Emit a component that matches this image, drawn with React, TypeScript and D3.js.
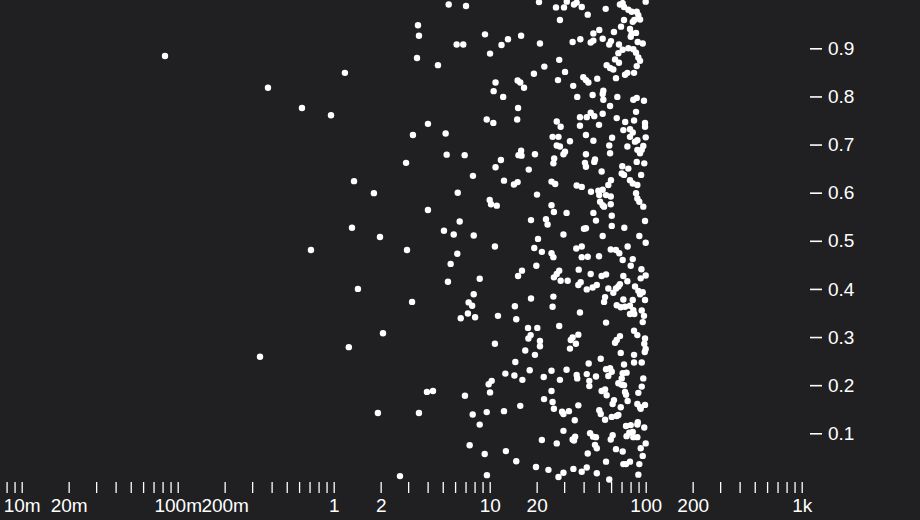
import React, { useEffect, useRef } from 'react';
import * as d3 from 'd3';

// [x, y] — x on a log axis, y in [0, 1]
const pointsLow: [number, number][] = [
  [0.0829, 0.884], [0.379, 0.818], [0.626, 0.776], [0.961, 0.761], [1.18, 0.849], [3.47, 0.948], [3.52, 0.926],
  [3.42, 0.88], [4.66, 0.865], [2.91, 0.662], [3.22, 0.72], [4.02, 0.743], [1.35, 0.624], [1.81, 0.599],
  [4.02, 0.564], [1.31, 0.527], [1.98, 0.508], [0.715, 0.481], [2.95, 0.481], [1.43, 0.4], [3.18, 0.373],
  [2.07, 0.308], [1.25, 0.279], [0.337, 0.259], [3.96, 0.186], [4.33, 0.188], [1.92, 0.142], [3.52, 0.142],
  [2.66, 0.011],
];

const pointsMid: [number, number][] = [
  [5.46, 0.991], [7.05, 0.988], [20.7, 0.996], [9.33, 0.929], [13.1, 0.919], [15.9, 0.926], [6.14, 0.908],
  [6.77, 0.908], [11.9, 0.907], [21.0, 0.91], [10.05, 0.889], [22.4, 0.862], [19.2, 0.847], [10.9, 0.829],
  [15.1, 0.833], [15.7, 0.829], [16.6, 0.818], [10.6, 0.811], [12.2, 0.799], [15.2, 0.776], [9.57, 0.752],
  [10.55, 0.745], [15.0, 0.752], [5.22, 0.723], [5.3, 0.679], [6.91, 0.678], [11.8, 0.668], [15.9, 0.687],
  [15.3, 0.678], [16.0, 0.677], [19.5, 0.68],
  [10.9, 0.653], [17.8, 0.648], [7.81, 0.635], [12.35, 0.625], [14.3, 0.617], [15.1, 0.622], [6.24, 0.6],
  [20.1, 0.596], [10.0, 0.585], [10.2, 0.576], [11.1, 0.573], [6.42, 0.54], [5.09, 0.521], [5.88, 0.513],
  [7.9, 0.511], [18.4, 0.543], [22.95, 0.545], [23.5, 0.534], [20.4, 0.504], [10.8, 0.488], [19.3, 0.485],
  [21.6, 0.477], [6.2, 0.473], [5.62, 0.452], [19.9, 0.448], [16.1, 0.438], [15.2, 0.427], [8.63, 0.421],
  [5.4, 0.415], [7.9, 0.389], [7.33, 0.372], [7.72, 0.365], [18.4, 0.38], [14.5, 0.364], [7.25, 0.349],
  [6.52, 0.339], [8.06, 0.341], [11.3, 0.344], [14.8, 0.337],
  [17.6, 0.319], [20.2, 0.319], [18.3, 0.304], [17.7, 0.297], [21.0, 0.292], [21.0, 0.281], [10.8, 0.286],
  [16.9, 0.272], [19.5, 0.263], [14.6, 0.248], [12.6, 0.224], [14.4, 0.22], [16.2, 0.211], [18.05, 0.231],
  [22.2, 0.217], [10.3, 0.209], [9.85, 0.202], [10.05, 0.185], [6.94, 0.178], [22.3, 0.171], [15.7, 0.157],
  [7.78, 0.139], [9.57, 0.144], [12.35, 0.146], [8.63, 0.118], [21.6, 0.086], [7.44, 0.075], [9.29, 0.057],
  [12.7, 0.063], [14.8, 0.042], [19.8, 0.03], [23.8, 0.024], [9.6, 0.013],
];

const pointsHighTop: [number, number][] = [
  [26.6, 0.985], [29.95, 0.985], [31.2, 0.997], [34.7, 0.991], [36.1, 0.995], [38.9, 0.986], [55.4, 0.982],
  [68.4, 0.991], [71.2, 0.994], [72.6, 0.986], [77.4, 0.98], [81.3, 0.976], [87.6, 0.976], [89.7, 0.969],
  [100, 0.997], [28.2, 0.959], [42.5, 0.97], [84.5, 0.959], [92.0, 0.96], [82.6, 0.955], [72.6, 0.959],
  [69.5, 0.945], [79.3, 0.94], [50.4, 0.938], [46.2, 0.931], [62.6, 0.934], [81.3, 0.931], [86.7, 0.932],
  [80.2, 0.924], [38.1, 0.919], [34.0, 0.913], [46.2, 0.916], [44.4, 0.912], [53.0, 0.92], [59.9, 0.915],
  [58.4, 0.908], [67.4, 0.908], [88.9, 0.913], [95.7, 0.91], [66.8, 0.89], [71.2, 0.897], [77.4, 0.9],
  [83.3, 0.898], [86.7, 0.891], [89.7, 0.881], [92.0, 0.874], [63.6, 0.877], [67.4, 0.87], [27.9, 0.876],
  [56.2, 0.865], [59.1, 0.859], [62.0, 0.856], [87.6, 0.863], [30.4, 0.851], [73.7, 0.845], [76.3, 0.849],
  [84.2, 0.849], [64.5, 0.838], [27.4, 0.834], [39.8, 0.84], [41.4, 0.834], [42.9, 0.829], [48.9, 0.837],
  [34.3, 0.822], [53.5, 0.812], [53.0, 0.805], [45.7, 0.803], [36.4, 0.799], [53.5, 0.793], [65.8, 0.799],
  [83.3, 0.793], [87.6, 0.797], [97.5, 0.791], [59.1, 0.78], [86.7, 0.768], [44.4, 0.766], [46.8, 0.759],
  [41.9, 0.757], [37.9, 0.757], [53.0, 0.764], [65.2, 0.755], [73.9, 0.747], [84.2, 0.75], [26.9, 0.748],
  [28.5, 0.737], [37.9, 0.739], [50.2, 0.741], [99.0, 0.745], [99.0, 0.737], [71.9, 0.73], [79.3, 0.732],
  [82.6, 0.725], [25.3, 0.716], [27.6, 0.716], [41.4, 0.72], [60.9, 0.714], [79.3, 0.716], [88.4, 0.709],
  [85.4, 0.706], [100, 0.715], [32.7, 0.707], [46.2, 0.708], [26.9, 0.698], [28.2, 0.696], [58.4, 0.698],
  [76.3, 0.696], [96.5, 0.697], [94.3, 0.689], [92.0, 0.682], [30.4, 0.685], [29.7, 0.68], [41.4, 0.68],
  [59.1, 0.682], [88.4, 0.689], [25.9, 0.671], [47.3, 0.669],
];

const pointsHighMiddle: [number, number][] = [
  [25.6, 0.661], [40.8, 0.662], [41.4, 0.654], [46.8, 0.664], [70.8, 0.655], [77.4, 0.65], [70.2, 0.64],
  [72.6, 0.637], [87.6, 0.664], [97.9, 0.661], [52.2, 0.644], [93.5, 0.637], [59.9, 0.626], [57.6, 0.616],
  [79.3, 0.626], [82.6, 0.619], [88.4, 0.616], [24.9, 0.623], [26.3, 0.618], [36.1, 0.615], [38.9, 0.612],
  [44.6, 0.602], [49.7, 0.604], [53.0, 0.606], [50.4, 0.595], [55.7, 0.595], [59.7, 0.592], [51.0, 0.581],
  [53.0, 0.574], [54.1, 0.571], [59.7, 0.576], [86.7, 0.599], [88.4, 0.588], [91.0, 0.581], [96.5, 0.571],
  [24.9, 0.574], [25.8, 0.56], [31.1, 0.558], [46.2, 0.558], [60.6, 0.552], [48.0, 0.542], [99.0, 0.541],
  [60.6, 0.531], [40.2, 0.525], [41.4, 0.526], [72.9, 0.527], [29.7, 0.513], [53.0, 0.51], [91.0, 0.51],
  [100, 0.496], [35.9, 0.484], [38.9, 0.488], [76.6, 0.488], [59.7, 0.482], [64.5, 0.481], [67.7, 0.474],
  [24.9, 0.474], [25.6, 0.466], [38.9, 0.466], [42.5, 0.467], [50.2, 0.468], [71.2, 0.46], [82.6, 0.462],
  [80.2, 0.448], [37.2, 0.44], [27.9, 0.438], [26.9, 0.431], [25.8, 0.424], [93.9, 0.441], [44.4, 0.431],
  [52.2, 0.427], [55.7, 0.43], [71.9, 0.427], [100, 0.428], [92.9, 0.422], [28.5, 0.417], [31.6, 0.417],
  [38.3, 0.414], [37.0, 0.408], [76.3, 0.416], [48.6, 0.408], [45.7, 0.403], [41.9, 0.399], [68.4, 0.41],
  [66.8, 0.405], [64.5, 0.401], [57.6, 0.401], [85.4, 0.405], [89.7, 0.396], [95.7, 0.393], [92.0, 0.389],
  [62.0, 0.392], [25.6, 0.384], [54.9, 0.383], [54.1, 0.373], [71.9, 0.378], [82.6, 0.377], [99.0, 0.377],
  [25.3, 0.363], [65.2, 0.366], [69.2, 0.362], [73.7, 0.363], [79.3, 0.365], [83.3, 0.356], [94.3, 0.355],
  [37.9, 0.351], [79.3, 0.348], [84.5, 0.348], [97.5, 0.344],
];

const pointsHighBottom: [number, number][] = [
  [27.9, 0.323], [55.7, 0.33], [95.7, 0.331], [37.0, 0.305], [34.0, 0.299], [33.1, 0.294], [35.7, 0.286],
  [32.7, 0.276], [68.4, 0.302], [65.2, 0.294], [63.6, 0.288], [84.2, 0.313], [88.4, 0.304], [99.0, 0.297],
  [97.9, 0.286], [100, 0.275], [98.6, 0.269], [69.2, 0.267], [51.5, 0.255], [84.2, 0.263], [43.1, 0.245],
  [72.6, 0.243], [84.2, 0.247], [94.3, 0.247], [24.9, 0.23], [31.1, 0.232], [55.7, 0.233], [59.1, 0.235],
  [60.6, 0.228], [57.6, 0.219], [71.2, 0.225], [75.4, 0.226], [70.2, 0.214], [36.1, 0.221], [36.4, 0.214],
  [41.9, 0.223], [48.0, 0.218], [28.2, 0.211], [43.5, 0.209], [43.5, 0.198], [96.5, 0.214], [66.8, 0.204],
  [70.2, 0.201], [72.6, 0.2], [24.9, 0.188], [52.2, 0.188], [54.9, 0.191], [56.2, 0.179], [73.7, 0.186],
  [74.8, 0.18], [94.3, 0.197], [89.7, 0.184], [62.6, 0.169], [61.4, 0.161], [76.6, 0.167], [25.3, 0.165],
  [25.8, 0.151], [37.0, 0.158], [88.4, 0.161], [92.0, 0.154], [99.0, 0.159], [92.9, 0.151], [50.4, 0.148],
  [51.5, 0.14], [69.2, 0.154], [29.1, 0.145], [29.7, 0.14], [32.2, 0.146], [60.6, 0.134], [65.2, 0.136],
  [66.8, 0.138], [54.9, 0.128], [35.1, 0.127], [74.8, 0.115], [80.2, 0.117], [89.0, 0.123], [88.4, 0.118],
  [97.9, 0.112], [29.7, 0.105], [82.6, 0.103], [78.5, 0.101], [75.4, 0.094], [83.3, 0.092], [88.4, 0.092],
  [44.0, 0.1], [48.0, 0.092], [46.0, 0.093], [35.3, 0.093], [34.0, 0.087], [34.7, 0.085], [61.4, 0.096],
  [59.7, 0.087], [26.9, 0.079], [100, 0.079], [47.3, 0.076], [48.6, 0.069], [64.5, 0.067], [71.2, 0.062],
  [92.9, 0.069], [42.5, 0.058], [95.7, 0.053], [55.7, 0.041], [71.9, 0.036], [74.8, 0.036], [79.3, 0.041],
  [91.0, 0.036], [41.9, 0.029], [34.4, 0.026], [38.9, 0.02], [29.7, 0.018], [48.6, 0.017], [27.6, 0.009],
  [89.7, 0.014], [58.4, 0.004],
];

const yTickValues = [0.1, 0.2, 0.3, 0.4, 0.5, 0.6, 0.7, 0.8, 0.9];
const xDomain = [0.01, 1000];

const WIDTH = 920;
const HEIGHT = 520;
const BG = '#202022';
const FG = '#ffffff';
const FONT = '"Liberation Sans", Arial, sans-serif';

const App = () => {
  const svgRef = useRef<SVGSVGElement>(null);

  useEffect(() => {
    document.body.style.margin = '0';
    document.body.style.background = BG;
    if (!svgRef.current) return;

    const svg = d3.select(svgRef.current);
    svg.selectAll('*').remove();

    const plotRight = 810;
    const x = d3.scaleLog().domain(xDomain).range([21.7, 801.7]);
    const y = d3.scaleLinear().domain([0, 1]).range([481.4, 0.2]);

    // every 1..9 multiple that fits between the left edge and the y axis
    const xTicks = d3.scaleLog().domain([x.invert(0), x.invert(plotRight)]).ticks()
      .filter(t => x(t) >= 0 && x(t) <= plotRight);
    const lead = (d: number) => Math.round(d / Math.pow(10, Math.floor(Math.log10(d) + 1e-9)));
    const fmt = d3.format('~s');

    // points
    const all = [...pointsLow, ...pointsMid, ...pointsHighTop, ...pointsHighMiddle, ...pointsHighBottom];
    svg.append('g')
      .selectAll('circle')
      .data(all)
      .join('circle')
      .attr('cx', d => x(d[0]))
      .attr('cy', d => y(d[1]))
      .attr('r', 3.2)
      .attr('fill', FG);

    // x axis
    svg.append('g')
      .attr('transform', 'translate(0,482)')
      .call(d3.axisBottom(x).tickValues(xTicks).tickSize(11).tickPadding(6)
        .tickFormat(d => (lead(+d) <= 2 ? fmt(+d) : '')))
      .call(s => s.select('.domain').remove())
      .call(s => s.selectAll('.tick line').attr('stroke', FG).attr('stroke-width', 1.3))
      .call(s => s.selectAll('.tick text')
        .attr('fill', FG).attr('font-size', 19).attr('font-family', FONT));

    // y axis
    svg.append('g')
      .attr('transform', `translate(${plotRight},0)`)
      .call(d3.axisRight(y).tickValues(yTickValues).tickSize(12).tickPadding(6).tickFormat(d3.format('.1f')))
      .call(s => s.select('.domain').remove())
      .call(s => s.selectAll('.tick line').attr('stroke', FG).attr('stroke-width', 1.6))
      .call(s => s.selectAll('.tick text')
        .attr('fill', FG).attr('font-size', 19).attr('font-family', FONT));
  }, []);

  return (
    <svg
      ref={svgRef}
      width={WIDTH}
      height={HEIGHT}
      style={{ display: 'block', background: BG }}
    />
  );
};

export default App;
